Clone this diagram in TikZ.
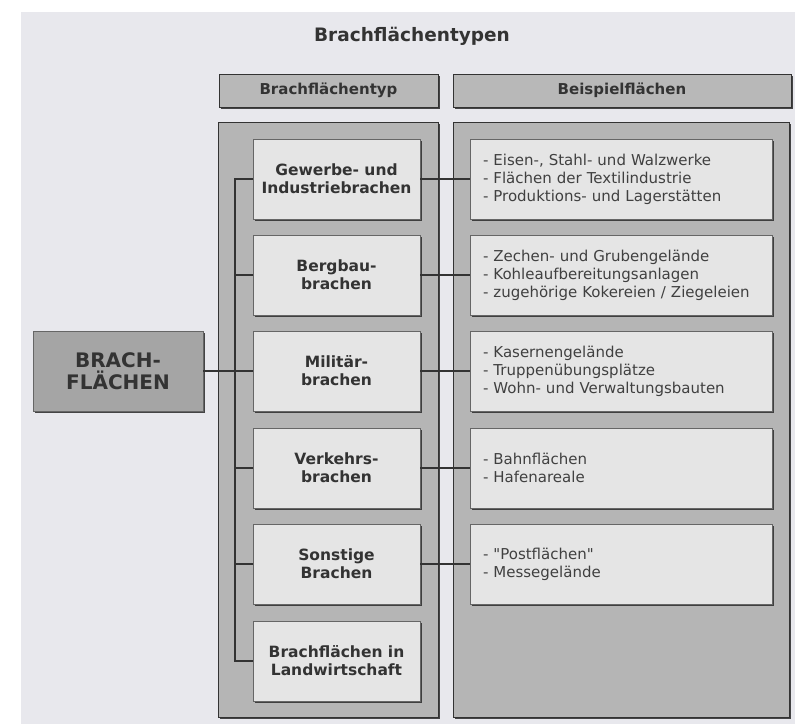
\documentclass[tikz,border=0pt]{standalone}
\usepackage{fontspec}
\setmainfont{DejaVu Sans}
\newfontfamily\quotefont{DejaVu Sans}
\usetikzlibrary{positioning}
\usetikzlibrary{shadows}
\definecolor{bggray}{rgb}{0.91,0.91,0.93}
\definecolor{panelgray}{rgb}{0.71,0.71,0.71}
\definecolor{boxgray}{rgb}{0.90,0.90,0.90}
\definecolor{headgray}{rgb}{0.72,0.72,0.72}
\definecolor{linegray}{rgb}{0.20,0.20,0.20}

\begin{document}
\begin{tikzpicture}[%
  x=1pt, y=-1pt,
  every node/.style={inner sep=0pt, outer sep=0pt},
  shade/.style={drop shadow={shadow xshift=1.5pt, shadow yshift=-1.5pt, fill=linegray, opacity=0.9}},
  panel/.style={draw=linegray, fill=panelgray, line width=1pt, shade},
  head/.style={draw=linegray, fill=headgray, line width=0.8pt, shade, anchor=north west,
    font=\bfseries\fontsize{15}{17}\selectfont, text=black!80},
  typbox/.style={draw=black!60, fill=boxgray, line width=0.8pt, shade, anchor=north west,
    minimum width=167pt, minimum height=80pt, align=center,
    font=\bfseries\fontsize{15.5}{18}\selectfont, text=black!80},
  bspbox/.style={draw=black!60, fill=boxgray, line width=0.8pt, shade, anchor=north west,
    minimum height=80pt, text width=276pt, inner xsep=13pt, align=left,
    font=\fontsize{15}{18}\selectfont, text=black!75},
  link/.style={draw=linegray, line width=1.4pt},
]

  \useasboundingbox (0,0) rectangle (795,724);
  \fill[bggray] (21,12) rectangle (795,724);

  % title and column heads
  \node[font=\bfseries\fontsize{18.5}{20}\selectfont, text=black!80] (title) at (412,36) {Brachflächentypen};
  \node[head, minimum width=219pt, minimum height=33pt] (headtyp) at (219,74) {Brachflächentyp};
  \node[head, minimum width=338pt, minimum height=33pt] (headbsp) at (453,74) {Beispielflächen};

  % panels
  \filldraw[panel] (218,122) rectangle (438,717);
  \filldraw[panel] (453,122) rectangle (789,717);

  % root
  \node[draw=black!60, fill=headgray!90!black, line width=0.8pt, shade,
    minimum width=170pt, minimum height=80pt, align=center,
    font=\bfseries\fontsize{20}{22}\selectfont, text=black!80, anchor=north west]
    (root) at (33,331) {BRACH-\\FLÄCHEN};

  % types
  \node[typbox] (t0) at (253,139) {Gewerbe- und\\Industriebrachen};
  \node[typbox] (t1) at (253,235) {Bergbau-\\brachen};
  \node[typbox] (t2) at (253,331) {Militär-\\brachen};
  \node[typbox] (t3) at (253,428) {Verkehrs-\\brachen};
  \node[typbox] (t4) at (253,524) {Sonstige\\Brachen};
  \node[typbox] (t5) at (253,621) {Brachflächen in\\Landwirtschaft};

  % examples
  \node[bspbox] (b0) at (470,139) {- Eisen-, Stahl- und Walzwerke\\- Flächen der Textilindustrie\\- Produktions- und Lagerstätten};
  \node[bspbox] (b1) at (470,235) {- Zechen- und Grubengelände\\- Kohleaufbereitungsanlagen\\- zugehörige Kokereien / Ziegeleien};
  \node[bspbox] (b2) at (470,331) {- Kasernengelände\\- Truppenübungsplätze\\- Wohn- und Verwaltungsbauten};
  \node[bspbox] (b3) at (470,428) {- Bahnflächen\\- Hafenareale};
  \node[bspbox] (b4) at (470,524) {- {\quotefont"}Postflächen{\quotefont"}\\- Messegelände};

  % spine
  \coordinate (spine) at (235,371);
  \draw[link] (t0.west) -- (t0.west -| spine) -- (t5.west -| spine) -- (t5.west);
  \draw[link] (root.east) -- (root.east -| spine);
  \draw[link] (t1.west) -- (t1.west -| spine);
  \draw[link] (t2.west) -- (t2.west -| spine);
  \draw[link] (t3.west) -- (t3.west -| spine);
  \draw[link] (t4.west) -- (t4.west -| spine);

  \draw[link] (t0) -- (b0);
  \draw[link] (t1) -- (b1);
  \draw[link] (t2) -- (b2);
  \draw[link] (t3) -- (b3);
  \draw[link] (t4) -- (b4);

\end{tikzpicture}
\end{document}
